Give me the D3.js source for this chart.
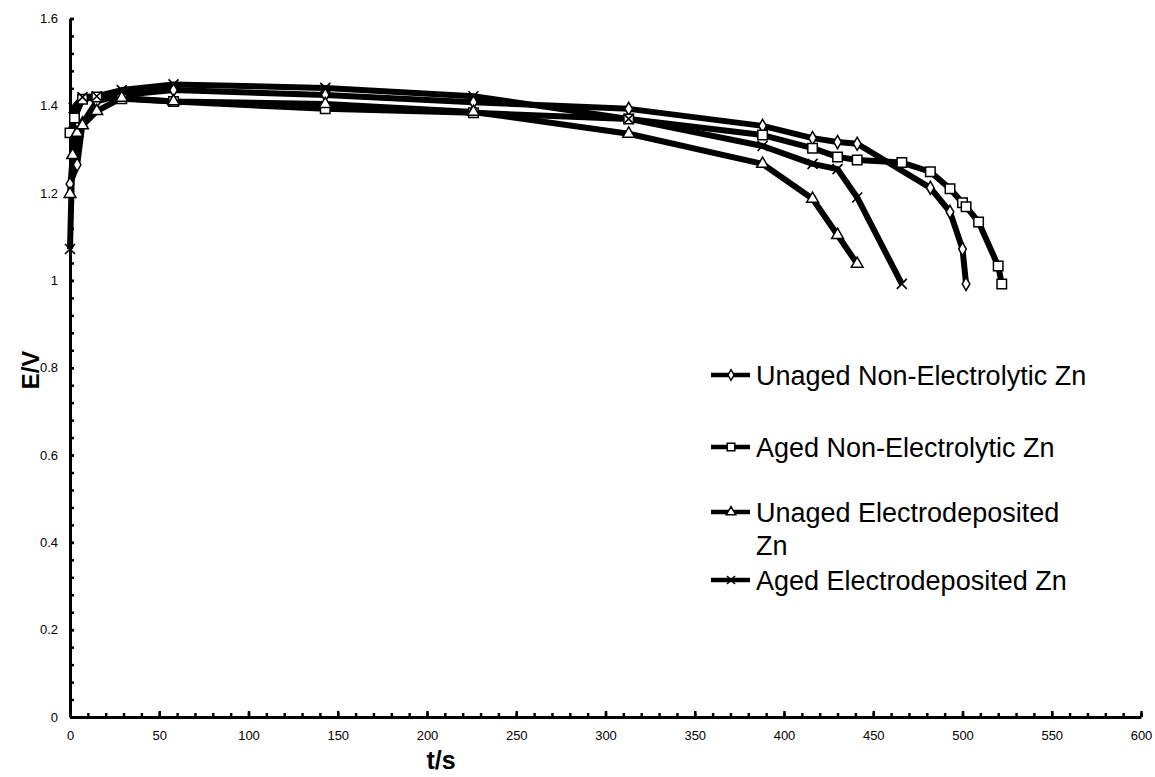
<!DOCTYPE html>
<html>
<head>
<meta charset="utf-8">
<script src="https://cdn.jsdelivr.net/npm/d3@7"></script>
<style>
  body { margin: 0; background: #fff; }
  svg { display: block; font-family: "Liberation Sans", Arial, sans-serif; }
</style>
</head>
<body>
<svg id="chart" width="1155" height="777"></svg>
<script>
// discharge curves
const seriesNames = [
  "Unaged Non-Electrolytic Zn",
  "Aged Non-Electrolytic Zn",
  "Unaged Electrodeposited Zn",
  "Aged Electrodeposited Zn"
];
const seriesSymbols = ["diamond", "square", "triangle", "cross"];

const unagedNonT = [0, 4, 7, 15, 29, 58, 143, 226, 313, 388, 416, 430, 441, 482, 493, 500, 502];
const unagedNonE = [1.221, 1.265, 1.36, 1.41, 1.425, 1.436, 1.425, 1.408, 1.393, 1.354, 1.326, 1.317, 1.313, 1.212, 1.157, 1.072, 0.992];

const agedNonT = [0, 2.5, 7, 15, 29, 58, 143, 226, 313, 388, 416, 430, 441, 466, 482, 493, 500, 502, 509, 520, 522];
const agedNonE = [1.338, 1.372, 1.415, 1.42, 1.416, 1.41, 1.393, 1.384, 1.37, 1.333, 1.303, 1.283, 1.276, 1.27, 1.249, 1.21, 1.178, 1.169, 1.134, 1.033, 0.992];

const unagedElT = [0, 1.5, 4, 7, 15, 29, 58, 143, 226, 313, 388, 416, 430, 441];
const unagedElE = [1.198, 1.287, 1.338, 1.355, 1.388, 1.418, 1.41, 1.404, 1.386, 1.336, 1.267, 1.187, 1.104, 1.038];

const agedElT = [0, 2, 7, 15, 29, 58, 143, 226, 313, 388, 416, 430, 441, 466];
const agedElE = [1.072, 1.395, 1.42, 1.422, 1.436, 1.449, 1.441, 1.422, 1.37, 1.308, 1.267, 1.255, 1.19, 0.992];

const xTicks = d3.range(0, 601, 50);
const yTicks = [0, 0.2, 0.4, 0.6, 0.8, 1, 1.2, 1.4, 1.6];

const allT = [unagedNonT, agedNonT, unagedElT, agedElT];
const allE = [unagedNonE, agedNonE, unagedElE, agedElE];
const series = seriesNames.map((name, i) => ({
  name: name,
  symbol: seriesSymbols[i],
  points: allT[i].map((t, j) => ({t: t, e: allE[i][j]}))
}));

const svg = d3.select("#chart");
const x = d3.scaleLinear().domain([0, 600]).range([70, 1141]);
const y = d3.scaleLinear().domain([0, 1.6]).range([717, 18.5]);

// minor ticks first
svg.append("g")
  .attr("transform", `translate(0,${y(0)})`)
  .call(d3.axisBottom(x).tickValues(d3.range(0, 601, 10)).tickSize(-4).tickFormat(""))
  .call(g => g.select(".domain").remove())
  .call(g => g.selectAll("line").attr("stroke-width", 2.5));

svg.append("g")
  .attr("transform", `translate(${x(0)},0)`)
  .call(d3.axisLeft(y).tickValues(d3.range(0, 1.601, 0.04)).tickSize(-4).tickFormat(""))
  .call(g => g.select(".domain").remove())
  .call(g => g.selectAll("line").attr("stroke-width", 2.5));

// main axes
const xAxis = svg.append("g")
  .attr("transform", `translate(0,${y(0)})`)
  .call(d3.axisBottom(x).tickValues(xTicks).tickSize(-6).tickSizeOuter(0).tickPadding(14));
xAxis.select(".domain").attr("stroke-width", 3);
xAxis.selectAll("line").attr("stroke-width", 2.5);
xAxis.selectAll("text").attr("font-size", 13).attr("font-family", "Liberation Sans, Arial, sans-serif").attr("fill", "#000");

const yAxis = svg.append("g")
  .attr("transform", `translate(${x(0)},0)`)
  .call(d3.axisLeft(y).tickValues(yTicks).tickSize(-4).tickSizeOuter(0).tickPadding(12)
    .tickFormat(d => d === 0 ? "0" : d3.format("~g")(d)));
yAxis.select(".domain").attr("stroke-width", 3);
yAxis.selectAll("line").attr("stroke-width", 2.5);
yAxis.selectAll("text").attr("font-size", 13).attr("font-family", "Liberation Sans, Arial, sans-serif").attr("fill", "#000");

// axis titles
svg.append("text")
  .attr("x", 441).attr("y", 769)
  .attr("text-anchor", "middle")
  .attr("font-size", 25).attr("font-weight", "bold")
  .text("t/s");

svg.append("text")
  .attr("transform", "translate(39,370) rotate(-90)")
  .attr("text-anchor", "middle")
  .attr("font-size", 24).attr("font-weight", "bold")
  .text("E/V");

// lines
const line = d3.line().x(d => x(d.t)).y(d => y(d.e));
svg.append("g").selectAll("path")
  .data(series)
  .join("path")
    .attr("d", d => line(d.points))
    .attr("fill", "none")
    .attr("stroke", "#000")
    .attr("stroke-width", 6)
    .attr("stroke-linejoin", "round");

// markers
function marker(sel, symbol, k = 1) {
  if (symbol === "cross") {
    const r = 5 * k;
    sel.append("path")
      .attr("d", `M${-r},${-r}L${r},${r}M${-r},${r}L${r},${-r}`)
      .attr("stroke", "#000").attr("stroke-width", 1.6).attr("fill", "none");
    return;
  }
  const shapes = {diamond: d3.symbolDiamond, square: d3.symbolSquare, triangle: d3.symbolTriangle};
  const sizes = {diamond: 50, square: 90, triangle: 60};
  sel.append("path")
    .attr("d", d3.symbol().type(shapes[symbol]).size(sizes[symbol] * k * k)())
    .attr("fill", "#fff").attr("stroke", "#000").attr("stroke-width", 1.5);
}

series.forEach(s => {
  svg.append("g").selectAll("g")
    .data(s.points)
    .join("g")
      .attr("transform", d => `translate(${x(d.t)},${y(d.e)})`)
      .each(function() { marker(d3.select(this), s.symbol); });
});

// legend
const legendY = [375, 447, 512, 580];
const legend = svg.append("g");
series.forEach((s, i) => {
  const g = legend.append("g").attr("transform", `translate(0,${legendY[i]})`);
  g.append("line")
    .attr("x1", 711).attr("x2", 750)
    .attr("stroke", "#000").attr("stroke-width", 4.5);
  marker(g.append("g").attr("transform", "translate(731,0)"), s.symbol, 0.8);
  const label = s.name === "Unaged Electrodeposited Zn" ? ["Unaged Electrodeposited", "Zn"] : [s.name];
  label.forEach((txt, k) => {
    g.append("text")
      .attr("x", 756).attr("y", 10 + k * 33)
      .attr("font-size", 27)
      .text(txt);
  });
});
</script>
</body>
</html>
